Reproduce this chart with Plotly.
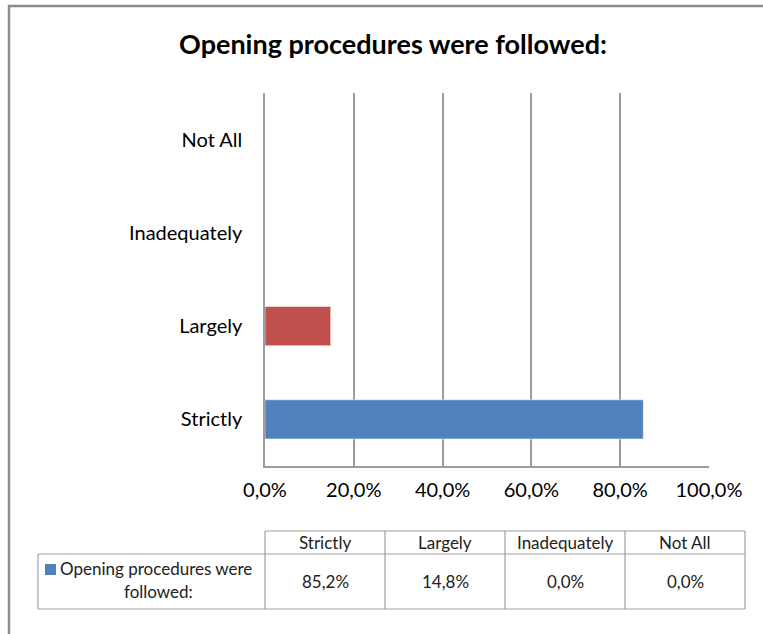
import plotly.graph_objects as go

# ---- data ----
categories = ["Strictly", "Largely", "Inadequately", "Not All"]
values = [85.2, 14.8, 0.0, 0.0]
bar_colors = ["#4F81BD", "#C0504D", "#9BBB59", "#8064A2"]
x_ticks = [0, 20, 40, 60, 80, 100]
series_name = "Opening procedures were followed:"
series_label_lines = ["Opening procedures were", "followed:"]
chart_title = "Opening procedures were followed:"

W, H = 763, 634
L, R, T, B = 265, 709, 93, 466  # plot area in pixels

FONT = "Lato, 'Open Sans', 'DejaVu Sans', sans-serif"
GRID = "#9c9c9c"
TBL = "#a0a0a0"


def fmt(v):
    return f"{v:.1f}%".replace(".", ",")


def px(x):
    return (x - L) / (R - L)


def py(y):
    return (B - y) / (B - T)


fig = go.Figure()
fig.add_trace(go.Bar(
    y=categories, x=values, orientation="h",
    marker=dict(color=bar_colors, line=dict(color="rgba(255,255,255,0.5)", width=1)),
    width=0.42, name=series_name, showlegend=False,
    hovertemplate="%{y}: %{x:.1f}%<extra></extra>",
))

fig.update_layout(
    width=W, height=H,
    margin=dict(l=L, r=W - R, t=T, b=H - B, pad=0),
    paper_bgcolor="white", plot_bgcolor="white",
    font=dict(family=FONT, color="#000000"),
    title=dict(text=chart_title, x=393 / W, xanchor="center",
               y=1 - 45 / H, yanchor="middle",
               font=dict(family=FONT, size=27, color="#000000", weight="bold")),
    xaxis=dict(range=[0, 100], tickmode="array", tickvals=x_ticks,
               ticktext=[fmt(v) for v in x_ticks],
               showgrid=True, gridcolor=GRID, gridwidth=1.5,
               showline=True, linecolor=GRID, linewidth=1.5,
               zeroline=False, ticks="", ticklabelstandoff=5,
               tickfont=dict(family=FONT, size=20, color="#000000"),
               fixedrange=True),
    yaxis=dict(categoryorder="array", categoryarray=categories,
               showgrid=False, showline=True, linecolor=GRID, linewidth=1.5,
               zeroline=False, ticks="", ticklabelstandoff=17,
               tickfont=dict(family=FONT, size=20, color="#000000"),
               fixedrange=True),
)

shapes = []
# outer chart border (left and top visible)
shapes.append(dict(type="rect", xref="paper", yref="paper",
                   x0=px(9), x1=px(900), y0=py(6), y1=py(800),
                   line=dict(color="#8c8c8c", width=2.5), layer="above"))

# data table geometry
col_edges = [265, 385, 505, 625, 745]
row_top, row_mid, row_bot = 531, 554, 609
label_left = 38


def hline(x0, x1, y):
    shapes.append(dict(type="line", xref="paper", yref="paper",
                       x0=px(x0), x1=px(x1), y0=py(y), y1=py(y),
                       line=dict(color=TBL, width=1.2)))


def vline(x, y0, y1):
    shapes.append(dict(type="line", xref="paper", yref="paper",
                       x0=px(x), x1=px(x), y0=py(y0), y1=py(y1),
                       line=dict(color=TBL, width=1.2)))


hline(col_edges[0], col_edges[-1], row_top)
hline(label_left, col_edges[-1], row_mid)
hline(label_left, col_edges[-1], row_bot)
for cx in col_edges:
    vline(cx, row_top, row_bot)
vline(label_left, row_mid, row_bot)

# legend key square
shapes.append(dict(type="rect", xref="paper", yref="paper",
                   x0=px(45), x1=px(56), y0=py(564), y1=py(575),
                   fillcolor=bar_colors[0], line=dict(width=0)))

annotations = []
tfont = dict(family=FONT, size=17, color="#222222")
for i, cat in enumerate(categories):
    cx = (col_edges[i] + col_edges[i + 1]) / 2
    annotations.append(dict(xref="paper", yref="paper", x=px(cx), y=py((row_top + row_mid) / 2),
                            text=cat, showarrow=False, xanchor="center", yanchor="middle",
                            font=tfont))
    annotations.append(dict(xref="paper", yref="paper", x=px(cx), y=py((row_mid + row_bot) / 2),
                            text=fmt(values[i]), showarrow=False, xanchor="center",
                            yanchor="middle", font=tfont))

annotations.append(dict(xref="paper", yref="paper", x=px(58), y=py(568),
                        text=series_label_lines[0], showarrow=False, xanchor="left",
                        yanchor="middle", font=tfont))
annotations.append(dict(xref="paper", yref="paper", x=px(158), y=py(591),
                        text=series_label_lines[1], showarrow=False, xanchor="center",
                        yanchor="middle", font=tfont))

fig.update_layout(shapes=shapes, annotations=annotations)

fig.write_html("out.html", config={"displayModeBar": False},
               post_script="document.body.style.margin='0';document.body.style.overflow='hidden';")
